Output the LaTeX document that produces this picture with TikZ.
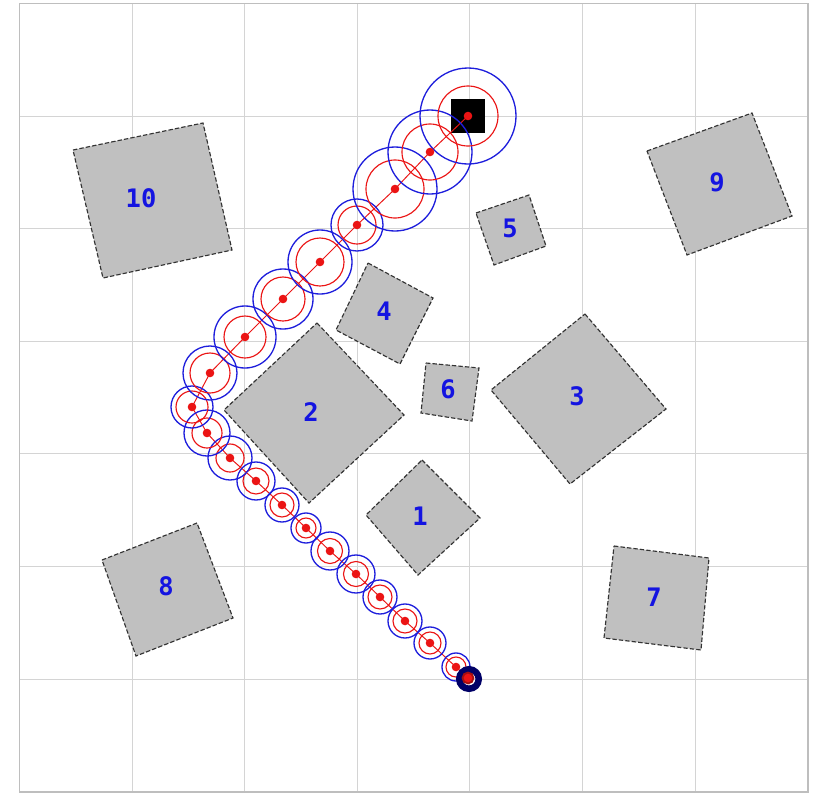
\documentclass[tikz,border=0pt]{standalone}
\usepackage{fontspec}
\newfontfamily\labelfont{DejaVu Sans Mono}
\definecolor{obsgray}{RGB}{192,192,192}
\definecolor{gridgray}{RGB}{212,212,212}
\definecolor{bordergray}{RGB}{190,190,190}
\definecolor{lblue}{RGB}{20,20,225}
\definecolor{pathred}{RGB}{235,20,20}
\definecolor{ringblue}{RGB}{30,30,220}
\tikzset{
  obstacle/.style={fill=obsgray, draw=black!80, dash pattern=on 2.5pt off 1.2pt, line width=0.65pt},
  obslabel/.style={text=lblue, font=\labelfont\bfseries\fontsize{14.5}{14.5}\selectfont, inner sep=0pt},
  gridline/.style={draw=gridgray, line width=0.55pt},
  ringb/.style={draw=ringblue, line width=0.75pt},
  ringr/.style={draw=pathred, line width=0.65pt},
  pathline/.style={draw=pathred, line width=0.55pt},
  dot/.style={fill=pathred}
}
\begin{document}
\begin{tikzpicture}[x=0.02cm,y=-0.02cm]
\useasboundingbox (0,0) rectangle (815,795);
\fill[white] (0,0) rectangle (815,795);
% grid
\foreach \i in {1,...,6} {
  \draw[gridline] ({19.5+112.6*\i},3.5) -- ({19.5+112.6*\i},791.7);
  \draw[gridline] (19.5,{3.5+112.6*\i}) -- (808,{3.5+112.6*\i});
}
\draw[draw=bordergray, line width=1.1pt] (19.5,3.5) rectangle (808,791.7);
% obstacles
\draw[obstacle] (73,150) -- (203,123) -- (232,250) -- (103,278) -- cycle;
\node[obslabel] (o10) at (141,198) {10};
\draw[obstacle] (647,151) -- (752,113) -- (792,216) -- (687,255) -- cycle;
\node[obslabel] (o9) at (717,182) {9};
\draw[obstacle] (476,213) -- (529,195) -- (546,246) -- (494,265) -- cycle;
\node[obslabel] (o5) at (510,228) {5};
\draw[obstacle] (368,263) -- (433,298) -- (400,364) -- (336,330) -- cycle;
\node[obslabel] (o4) at (384,311) {4};
\draw[obstacle] (317,323) -- (404,415) -- (309,503) -- (224,410) -- cycle;
\node[obslabel] (o2) at (311,412) {2};
\draw[obstacle] (426,363) -- (479,368) -- (472,421) -- (421,413) -- cycle;
\node[obslabel] (o6) at (448,389) {6};
\draw[obstacle] (585,314) -- (666,409) -- (570,484) -- (491,390) -- cycle;
\node[obslabel] (o3) at (577,396) {3};
\draw[obstacle] (422,460) -- (480,518) -- (418,575) -- (366,515) -- cycle;
\node[obslabel] (o1) at (420,516) {1};
\draw[obstacle] (102,560) -- (197,523) -- (233,618) -- (136,656) -- cycle;
\node[obslabel] (o8) at (166,586) {8};
\draw[obstacle] (614,546) -- (709,558) -- (701,650) -- (604,638) -- cycle;
\node[obslabel] (o7) at (654,597) {7};
% goal
\fill[black] (451,99) rectangle (485,133);
% path points
\foreach \n/\x/\y in {0/468/678,1/456/667,2/430/643,3/405/621,4/380/597,5/356/574,6/330/551,7/306/528,8/282/505,9/256/481,10/230/458,11/207/433,12/192/407,13/210/373,14/245/337,15/283/299,16/320/262,17/357/225,18/395/189,19/430/152,20/468/116}
  \coordinate (p\n) at (\x,\y);
\draw[pathline] (p0) \foreach \n in {1,...,20} { -- (p\n) };
% uncertainty rings
\foreach \n/\rb/\rr in {1/14/10,2/16/11,3/17/12,4/17/12,5/19/12.5,6/19/12.5,7/15/10,8/17/12,9/19/13,10/22/14,11/23/15,12/21/16,13/27/20,14/31/21,15/30/22,16/32/24,17/26/19,18/42/29,19/42/28,20/48/30} {
  \draw[ringb] (p\n) circle (\rb);
  \draw[ringr] (p\n) circle (\rr);
}
% start blob
\foreach \r in {12,10.5,9,7.5} \draw[draw=black!60!blue, line width=1.2pt] (p0) ++(1,1) circle (\r);
\foreach \r in {5.5,4} \draw[draw=pathred!70!black, line width=1pt] (p0) circle (\r);
% dots
\foreach \n in {0,...,20} \fill[dot] (p\n) circle (4.3);
\end{tikzpicture}
\end{document}
